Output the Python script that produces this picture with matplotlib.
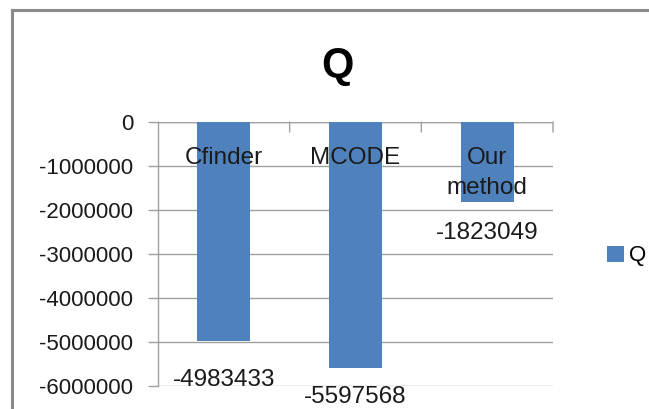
import matplotlib
matplotlib.use("Agg")
import matplotlib.pyplot as plt
from matplotlib.lines import Line2D
from matplotlib.patches import Patch

categories = ["Cfinder", "MCODE", "Our\nmethod"]
values = [-4983433, -5597568, -1823049]
yticks = [0, -1000000, -2000000, -3000000, -4000000, -5000000, -6000000]
series_name = "Q"

W, H = 649, 409
fig = plt.figure(figsize=(W / 100, H / 100), dpi=100)
plt.rcParams['font.family'] = ['Liberation Sans', 'DejaVu Sans']

grid_c = "#a0a0a0"
bar_c = "#4f81bd"
txt_c = "#1a1a1a"
fs_tick = 16
fs_lab = 17.5

ax = fig.add_axes([158 / W, 1 - 386 / H, (553 - 158) / W, (386 - 122) / H])
x = list(range(len(categories)))
ax.bar(x, values, width=0.4, color=bar_c, zorder=3)
ax.set_xlim(-0.5, len(categories) - 0.5)
ax.set_ylim(min(yticks), max(yticks))
ax.set_yticks(yticks)
ax.set_yticklabels([str(v) for v in yticks], fontsize=fs_tick, color=txt_c)
ax.tick_params(axis='y', length=7.2, width=1, color=grid_c, pad=10.5)
ax.grid(axis='y', color=grid_c, linewidth=1, zorder=0)
for s in ['top', 'right', 'bottom']:
    ax.spines[s].set_visible(False)
ax.spines['left'].set_color(grid_c)
ax.spines['left'].set_linewidth(1)

# category axis at zero with inward tick marks at category boundaries
ax.set_xticks([])
ax.axhline(0, color=grid_c, linewidth=1, zorder=2)
for b in [i + 0.5 for i in x]:
    ax.annotate("", xy=(b, 0), xytext=(0, -7.2), textcoords='offset points',
                arrowprops=dict(arrowstyle='-', color=grid_c, lw=1, shrinkA=0, shrinkB=0))

# category labels just below the zero line
for xi, lab in zip(x, categories):
    ax.annotate(lab, xy=(xi, 0), xytext=(0, -18), textcoords='offset points',
                ha='center', va='top', fontsize=fs_lab, color=txt_c, linespacing=1.46,
                zorder=5)

# data labels below the bar ends
offsets_px = [39, 29, 31]
for xi, v, o in zip(x, values, offsets_px):
    ax.annotate(str(v), xy=(xi, v), xytext=(0, -o * 0.72), textcoords='offset points',
                ha='center', va='center', fontsize=fs_lab, color=txt_c,
                annotation_clip=False, zorder=5)

# title
fig.text(337 / W, 1 - 66 / H, "Q", fontsize=30, fontweight='bold', ha='center',
         va='center', color='black')

# legend
fig.legend(handles=[Patch(facecolor=bar_c, label=series_name)], loc='center left',
           bbox_to_anchor=(596 / W, 1 - 256 / H), frameon=False, fontsize=fs_tick,
           handlelength=0.75, handleheight=0.75, handletextpad=0.25, borderpad=0)

# chart border (left and top visible)
fig.add_artist(Line2D([12 / W, 12 / W], [0, 1 - 10 / H], transform=fig.transFigure,
                      color="#8a8a8a", lw=2.2))
fig.add_artist(Line2D([12 / W, 1], [1 - 10 / H, 1 - 10 / H], transform=fig.transFigure,
                      color="#8a8a8a", lw=2.2))

fig.savefig("out.png", dpi=100)
